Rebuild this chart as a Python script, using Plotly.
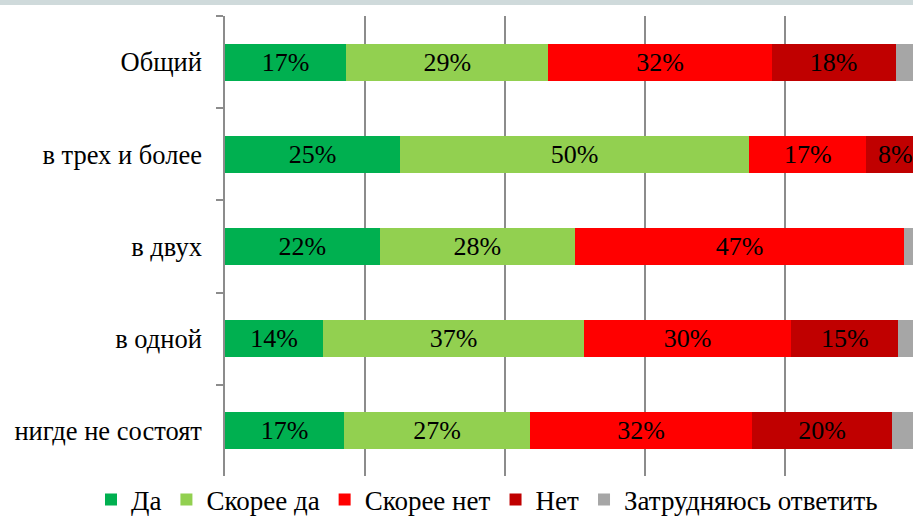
import plotly.graph_objects as go

categories = ["Общий", "в трех и более", "в двух", "в одной", "нигде не состоят"]
series_names = ["Да", "Скорее да", "Скорее нет", "Нет", "Затрудняюсь ответить"]
da = [17.3, 25.0, 22.1, 14.0, 17.0]
skoree_da = [28.9, 49.9, 27.9, 37.3, 26.6]
skoree_net = [31.9, 16.7, 47.0, 29.6, 31.7]
net = [17.7, 8.4, 0.0, 15.3, 20.0]
zatrud = [4.2, 0.0, 3.0, 3.8, 4.7]
colors = ["#00B050", "#92D050", "#FF0000", "#C00000", "#A6A6A6"]

series = [da, skoree_da, skoree_net, net, zatrud]
font_family = "Liberation Serif"

fig = go.Figure()
annotations = []
for i, (name, vals, col) in enumerate(zip(series_names, series, colors)):
    labelled = i < 4
    texts = []
    for j, v in enumerate(vals):
        start = sum(series[k][j] for k in range(i))
        if labelled and v > 0 and start + v <= 98.3:
            texts.append(f"{round(v)}%")
        else:
            texts.append("")
            if labelled and v > 0:
                # segment runs past the visible edge: label it via an annotation at its centre
                annotations.append(dict(x=(start + v / 2) / 100, y=categories[j], xref="x", yref="y",
                                        text=f"{round(v)}%", showarrow=False,
                                        font=dict(family=font_family, size=26, color="black")))
    fig.add_trace(go.Bar(
        y=categories, x=[v / 100 for v in vals], name=name, orientation="h",
        marker=dict(color=col, line=dict(width=0)),
        text=texts, textposition="inside", insidetextanchor="middle", textangle=0,
        textfont=dict(family=font_family, size=26, color="black"),
        constraintext="none", hoverinfo="skip", cliponaxis=False,
    ))

fig.update_layout(
    barmode="stack", bargap=0.6,
    width=913, height=517,
    margin=dict(l=225, r=0, t=16, b=40, autoexpand=False),
    plot_bgcolor="white", paper_bgcolor="white",
    font=dict(family=font_family, size=26, color="black"),
    showlegend=True,
    legend=dict(orientation="h", x=-134 / 688, xanchor="left", y=-23 / 461, yanchor="middle",
                font=dict(family=font_family, size=27, color="black"),
                itemwidth=30, tracegroupgap=0, traceorder="normal"),
    annotations=annotations,
    shapes=[dict(type="rect", xref="paper", yref="paper", x0=-0.5, x1=1.5,
                 y0=1 + 11 / 461, y1=1 + 16.5 / 461, fillcolor="#CFDADB", line=dict(width=0), layer="above")],
)
fig.update_xaxes(range=[0, 688 / 700], showticklabels=False, showgrid=True, gridcolor="#8C8C8C",
                 gridwidth=1.5, dtick=0.2, tick0=0, zeroline=False, showline=False, ticks="")
fig.update_yaxes(autorange="reversed", showline=True, linecolor="#8C8C8C", linewidth=1.5,
                 ticks="outside", tickson="boundaries", ticklen=7, tickcolor="#8C8C8C", tickwidth=1.5,
                 showgrid=False, ticklabelstandoff=16,
                 tickfont=dict(family=font_family, size=26.5, color="black"))

fig.write_html("out.html", config={"displayModeBar": False},
               post_script="document.body.style.margin='0';document.body.style.overflow='hidden';")
